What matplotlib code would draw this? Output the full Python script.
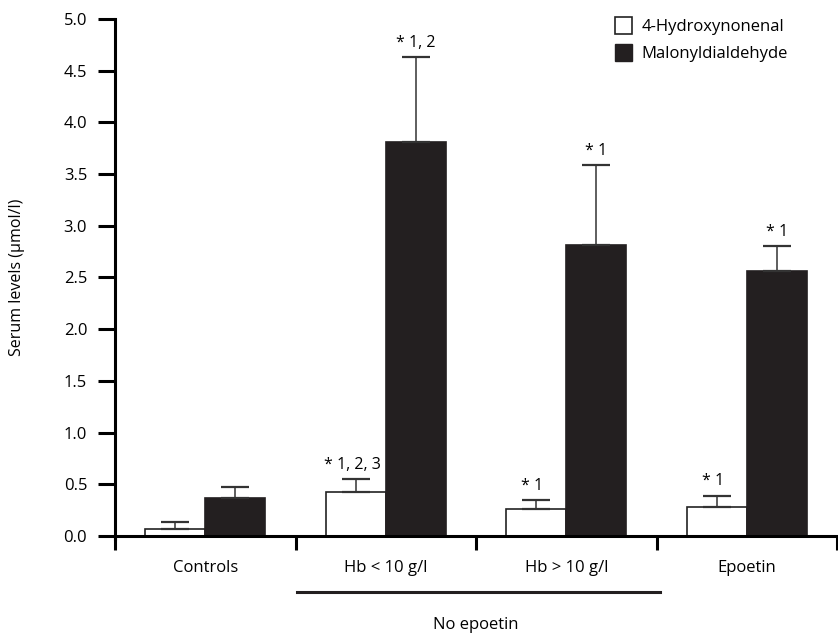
import matplotlib
matplotlib.use("Agg")
import matplotlib.pyplot as plt
import matplotlib.transforms as mtransforms
from matplotlib.patches import Rectangle
import numpy as np

plt.rcParams["font.family"] = ["Open Sans", "DejaVu Sans"]

# Serum lipid peroxidation markers per patient group (mean, SD)
groups = ["Controls", "Hb < 10 g/l", "Hb > 10 g/l", "Epoetin"]
hne = [0.07, 0.43, 0.26, 0.28]
hne_sd = [0.07, 0.12, 0.09, 0.11]
mda = [0.37, 3.81, 2.81, 2.56]
mda_sd = [0.10, 0.82, 0.78, 0.24]
hne_sig = ["", "* 1, 2, 3", "* 1", "* 1"]
mda_sig = ["", "* 1, 2", "* 1", "* 1"]

fig = plt.figure(figsize=(8.38, 6.33), dpi=100)
ax = fig.add_axes([115 / 838, 97 / 633, 722 / 838, 517 / 633])

centers = np.arange(len(groups)) + 0.5
w = 1 / 3
err_kw = dict(ecolor="#333333", elinewidth=1.1, capsize=10, capthick=1.6)

ax.bar(centers - w / 2, hne, w, color="white", edgecolor="#222222", linewidth=1.2,
       yerr=[np.zeros(len(hne)), hne_sd], error_kw=err_kw, zorder=2)
ax.bar(centers + w / 2, mda, w, color="#231f20", edgecolor="#231f20", linewidth=1.2,
       yerr=[np.zeros(len(mda)), mda_sd], error_kw=err_kw, zorder=2)

for c, v, s, lab in zip(centers - w / 2, hne, hne_sd, hne_sig):
    if lab:
        ax.text(c - 0.02, v + s + 0.06, lab, ha="center", va="bottom", fontsize=11.5)
for c, v, s, lab in zip(centers + w / 2, mda, mda_sd, mda_sig):
    if lab:
        ax.text(c, v + s + 0.06, lab, ha="center", va="bottom", fontsize=11.5)

ax.set_xlim(0, 4)
ax.set_ylim(0, 5)
ax.set_yticks(np.arange(0, 5.01, 0.5))
ax.set_yticklabels([f"{t:.1f}" for t in np.arange(0, 5.01, 0.5)], fontsize=12)
ax.set_xticks(np.arange(0, 5))
ax.set_xticklabels([])
ax.set_xticks(centers, minor=True)
ax.set_xticklabels(groups, minor=True, fontsize=12)
ax.tick_params(axis="x", which="minor", length=0, pad=17.5)
ax.tick_params(axis="x", which="major", length=10, width=2.2, direction="out")
ax.tick_params(axis="y", length=12, width=2.2, direction="out", pad=8)

for side in ["top", "right"]:
    ax.spines[side].set_visible(False)
ax.spines["left"].set_linewidth(2.2)
ax.spines["bottom"].set_linewidth(2.2)
ax.spines["left"].set_bounds(-0.03, 5)

ax.set_ylabel("Serum levels (µmol/l)", fontsize=11.5, labelpad=28)

# bracket grouping the two untreated groups
trans = mtransforms.blended_transform_factory(ax.transData, ax.transAxes)
ax.plot([1.01, 3.02], [-0.108, -0.108], color="#231f20", lw=2.2,
        transform=trans, clip_on=False)
ax.text(2.0, -0.172, "No epoetin", transform=trans, ha="center", va="center",
        fontsize=12)

handles = [
    Rectangle((0, 0), 1, 1, facecolor="white", edgecolor="#222222", linewidth=1.2),
    Rectangle((0, 0), 1, 1, facecolor="#231f20", edgecolor="#231f20"),
]
fig.legend(handles, ["4-Hydroxynonenal", "Malonyldialdehyde"],
           loc="upper left", bbox_to_anchor=(600 / 838, 1 - 2 / 633),
           frameon=False, fontsize=12, handlelength=1.0, handleheight=1.2,
           handletextpad=0.6, labelspacing=0.5)

fig.savefig("out.png", dpi=100)
